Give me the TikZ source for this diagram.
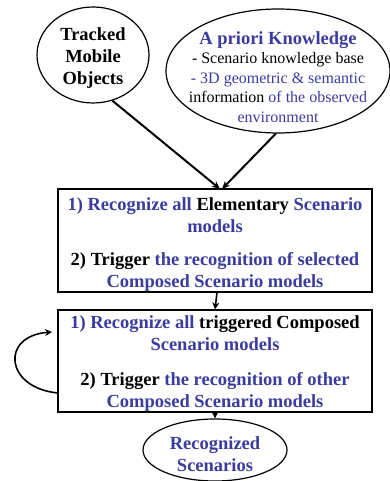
\documentclass[tikz,border=0pt]{standalone}
\usepackage{fontspec}
\setmainfont{Liberation Serif}
\usetikzlibrary{shapes.geometric,arrows.meta}
\definecolor{kblue}{HTML}{3C3C9E}
\begin{document}
\begin{tikzpicture}[x=1pt,y=1pt,
  oval/.style={ellipse,draw,line width=1.2pt,inner sep=0pt},
  stagebox/.style={rectangle,draw,line width=1.2pt,inner sep=0pt,minimum width=314pt},
  txt/.style={align=center,inner sep=0pt},
  bigtext/.style={font=\bfseries\fontsize{18.5}{22}\selectfont},
  conn/.style={line width=2pt,-{Stealth[length=8pt,width=7pt]}},
  thin/.style={line width=1.6pt,-{Stealth[length=7pt,width=7pt]}}]
\useasboundingbox (0,0) rectangle (390,481);
% shapes
\node[oval,minimum width=112pt,minimum height=96pt] (tmo) at (93,426) {};
\node[oval,minimum width=224pt,minimum height=124pt] (apk) at (278,410) {};
\node[stagebox,minimum height=103pt] (b1) at (215,240.5) {};
\node[stagebox,minimum height=102pt] (b2) at (215,120) {};
\node[oval,minimum width=144pt,minimum height=62pt] (rs) at (215,31) {};
% texts
\node[txt,bigtext] (tmot) at (93,423) {Tracked\\Mobile\\Objects};
\node[txt,font=\fontsize{16}{19.5}\selectfont] (apkt) at (278,404)
  {{\color{kblue}\bfseries\fontsize{18.5}{19.5}\selectfont A priori Knowledge}\\
   - Scenario knowledge base\\
   {\color{kblue}- 3D geometric \& semantic}\\
   information {\color{kblue}of the observed}\\
   {\color{kblue}environment}};
\node[txt,bigtext] (b1t) at (215,236.5)
  {{\color{kblue}1) Recognize all} Elementary {\color{kblue}Scenario}\\
   {\color{kblue}models}\\[11pt]
   2) Trigger {\color{kblue}the recognition of selected}\\
   {\color{kblue}Composed Scenario models}};
\node[txt,bigtext] (b2t) at (215,117.5)
  {{\color{kblue}1) Recognize all} triggered Composed\\
   {\color{kblue}Scenario models}\\[13pt]
   2) Trigger {\color{kblue}the recognition of other}\\
   {\color{kblue}Composed Scenario models}};
\node[txt,bigtext,text=kblue] (rst) at (215,27) {Recognized\\Scenarios};
% connectors
\coordinate (t1) at (220,292);
\coordinate (t2) at (222,292);
\draw[conn] (tmo.-67) -- (t1);
\draw[conn] (apk.-92) -- (t2);
\draw[thin] (b1.south) ++(2,0) coordinate (s1) -- (b2.north);
\draw[thin] (b2.south) -- (rs.north);
\coordinate (lp) at (58,88);
\coordinate (le) at (52,149);
\draw[line width=1.6pt,-{Stealth[length=7pt,width=7pt]}] (lp) .. controls (5,93) and (0,145) .. (le);
\end{tikzpicture}
\end{document}
